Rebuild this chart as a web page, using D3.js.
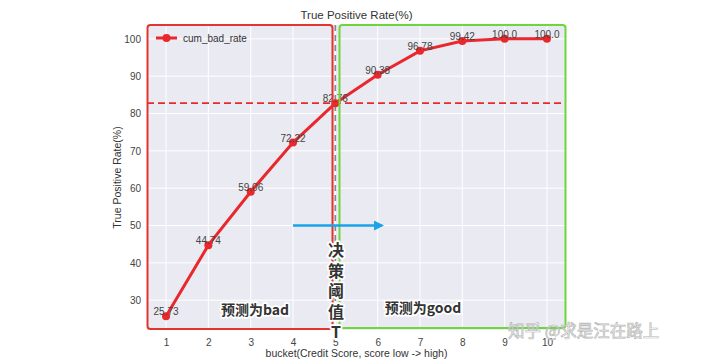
<!doctype html>
<html>
  <head>
    <style>
      body { margin: 0; background: white; font-family: 'Liberation Sans', Arial, sans-serif; }
      .tick text { fill: #444; font-size: 10px; }
      .halo { paint-order: stroke; stroke: white; stroke-width: 3.5px; stroke-linejoin: round; }
    </style>
    <script src="https://d3js.org/d3.v7.min.js"></script>
  </head>
  <body>
    <svg width="720" height="361"></svg>
    <script>
      var buckets = [1, 2, 3, 4, 5, 6, 7, 8, 9, 10];
      var cumBadRate = [25.73, 44.74, 59.06, 72.22, 82.76, 90.38, 96.78, 99.42, 100.0, 100.0];
      var pointLabels = ["25.73", "44.74", "59.06", "72.22", "82.76", "90.38", "96.78", "99.42", "100.0", "100.0"];
      var yTicks = [30, 40, 50, 60, 70, 80, 90, 100];
      var threshold = 82.76, thresholdBucket = 5;

      var svg = d3.select("svg");
      var pL = 147, pR = 566, pT = 25, pB = 330;

      var x = d3.scaleLinear().domain([0.55, 10.45]).range([pL, pR]);
      var y = d3.scaleLinear().domain([22.02, 103.71]).range([pB, pT]);

      // background
      svg.append("rect").attr("x", pL).attr("y", pT)
        .attr("width", pR - pL).attr("height", pB - pT).attr("fill", "#eaeaf2");

      // grid
      svg.append("g").selectAll("line").data(buckets).enter().append("line")
        .attr("x1", d => x(d)).attr("x2", d => x(d)).attr("y1", pT).attr("y2", pB)
        .attr("stroke", "white").attr("stroke-width", 1);
      svg.append("g").selectAll("line").data(yTicks).enter().append("line")
        .attr("x1", pL).attr("x2", pR).attr("y1", d => y(d)).attr("y2", d => y(d))
        .attr("stroke", "white").attr("stroke-width", 1);

      // axes
      var gx = svg.append("g").attr("transform", "translate(0," + pB + ")")
        .call(d3.axisBottom(x).tickValues(buckets).tickSize(0).tickPadding(9).tickFormat(d3.format("d")));
      gx.select(".domain").remove();
      var gy = svg.append("g").attr("transform", "translate(" + pL + ",0)")
        .call(d3.axisLeft(y).tickValues(yTicks).tickSize(0).tickPadding(6));
      gy.select(".domain").remove();
      svg.selectAll(".tick text").attr("font-family", "'Liberation Sans', Arial, sans-serif");

      svg.append("text").attr("x", (pL + pR) / 2).attr("y", 357)
        .attr("text-anchor", "middle").attr("font-size", 10.5).attr("fill", "#333")
        .text("bucket(Credit Score, score low -> high)");
      svg.append("text").attr("transform", "translate(121," + (pT + pB) / 2 + ") rotate(-90)")
        .attr("text-anchor", "middle").attr("font-size", 10.5).attr("fill", "#333")
        .text("True Positive Rate(%)");
      svg.append("text").attr("x", (pL + pR) / 2).attr("y", 19)
        .attr("text-anchor", "middle").attr("font-size", 11.5).attr("fill", "#333")
        .text("True Positive Rate(%)");

      // reference lines
      svg.append("line").attr("x1", pL).attr("x2", pR)
        .attr("y1", y(threshold)).attr("y2", y(threshold))
        .attr("stroke", "#e8282d").attr("stroke-width", 1.8).attr("stroke-dasharray", "7,4");
      svg.append("line").attr("x1", x(thresholdBucket)).attr("x2", x(thresholdBucket))
        .attr("y1", pT).attr("y2", pB)
        .attr("stroke", "#888").attr("stroke-width", 1.6).attr("stroke-dasharray", "6,4");

      // series
      var pts = buckets.map((b, i) => [b, cumBadRate[i]]);
      svg.append("path").datum(pts)
        .attr("d", d3.line().x(d => x(d[0])).y(d => y(d[1])))
        .attr("fill", "none").attr("stroke", "#e8282d").attr("stroke-width", 3);
      svg.append("g").selectAll("circle").data(pts).enter().append("circle")
        .attr("cx", d => x(d[0])).attr("cy", d => y(d[1])).attr("r", 4).attr("fill", "#e8282d");
      svg.append("g").selectAll("text").data(pts).enter().append("text")
        .attr("x", d => x(d[0])).attr("y", d => y(d[1]) - 1)
        .attr("text-anchor", "middle").attr("font-size", 10).attr("fill", "#444")
        .text((d, i) => pointLabels[i]);

      // legend
      svg.append("line").attr("x1", 156).attr("x2", 177).attr("y1", 38).attr("y2", 38)
        .attr("stroke", "#e8282d").attr("stroke-width", 3);
      svg.append("circle").attr("cx", 166.5).attr("cy", 38).attr("r", 4).attr("fill", "#e8282d");
      svg.append("text").attr("x", 183).attr("y", 41.5).attr("font-size", 10).attr("fill", "#333")
        .text("cum_bad_rate");

      // annotation boxes
      svg.append("rect").attr("x", 147.5).attr("y", 25).attr("width", 185).attr("height", 304)
        .attr("rx", 3).attr("fill", "none").attr("stroke", "#e3342f").attr("stroke-width", 2);
      svg.append("rect").attr("x", 339.5).attr("y", 25).attr("width", 226).attr("height", 303)
        .attr("rx", 3).attr("fill", "none").attr("stroke", "#6ed63c").attr("stroke-width", 2);

      // arrow
      svg.append("defs").append("marker").attr("id", "ah").attr("viewBox", "0 0 10 10")
        .attr("refX", 8).attr("refY", 5).attr("markerWidth", 4).attr("markerHeight", 4)
        .attr("orient", "auto").append("path").attr("d", "M0,0L10,5L0,10z").attr("fill", "#1aa3e8");
      svg.append("line").attr("x1", 293).attr("x2", 382).attr("y1", y(50)).attr("y2", y(50))
        .attr("stroke", "#1aa3e8").attr("stroke-width", 2.5).attr("marker-end", "url(#ah)");

      // text annotations
      var cjk = "'Noto Sans CJK SC', sans-serif";
      var vt = ["决", "策", "阈", "值", "T"];
      svg.append("g").selectAll("text").data(vt).enter().append("text").attr("class", "halo")
        .attr("x", 336).attr("y", (d, i) => 256 + i * 20.5)
        .attr("text-anchor", "middle").attr("font-size", 16).attr("font-weight", "bold")
        .attr("font-family", cjk).attr("fill", "#333").text(d => d);
      svg.append("text").attr("class", "halo").attr("x", 255).attr("y", 315)
        .attr("text-anchor", "middle").attr("font-size", 14).attr("font-weight", "bold")
        .attr("font-family", cjk).attr("fill", "#333").text("预测为bad");
      svg.append("text").attr("class", "halo").attr("x", 423).attr("y", 313)
        .attr("text-anchor", "middle").attr("font-size", 14).attr("font-weight", "bold")
        .attr("font-family", cjk).attr("fill", "#333").text("预测为good");

      // watermark
      svg.append("text").attr("x", 508).attr("y", 337).attr("font-size", 16.5)
        .attr("font-family", cjk).attr("fill", "white").attr("fill-opacity", 0.7)
        .attr("stroke", "#b5b5b5").attr("stroke-width", 0.7)
        .text("知乎 @求是汪在路上");
    </script>
  </body>
</html>
